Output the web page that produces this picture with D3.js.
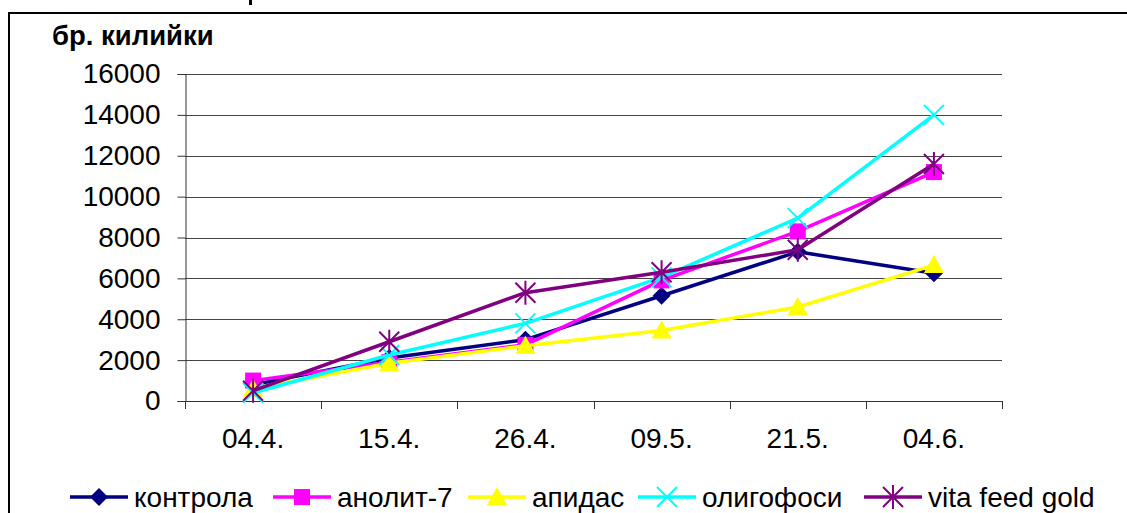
<!DOCTYPE html>
<html>
<head>
<meta charset="utf-8">
<script src="https://cdn.jsdelivr.net/npm/d3@7"></script>
<style>
  html, body { margin: 0; padding: 0; background: #fff; }
  svg { display: block; font-family: "Liberation Sans", Arial, sans-serif; }
</style>
</head>
<body>
<svg id="chart" width="1127" height="513"></svg>
<script>
// Sampling dates
const categories = ["04.4.", "15.4.", "26.4.", "09.5.", "21.5.", "04.6."];

// Number of cells per colony
const kontrola = [800, 2100, 3000, 5150, 7300, 6250];
const anolit7 = [1000, 1900, 2750, 5900, 8300, 11200];
const apidas = [600, 1850, 2700, 3450, 4600, 6650];
const oligofosi = [400, 2250, 3800, 6050, 8950, 14000];
const vitaFeedGold = [500, 2900, 5300, 6300, 7400, 11600];

const seriesNames = ["контрола", "анолит-7", "апидас", "олигофоси", "vita feed gold"];
const seriesValues = [kontrola, anolit7, apidas, oligofosi, vitaFeedGold];
const seriesColors = ["#000080", "#ff00ff", "#ffff00", "#00ffff", "#800080"];
const seriesMarkers = ["diamond", "square", "triangle", "cross", "star"];

const yTicks = [0, 2000, 4000, 6000, 8000, 10000, 12000, 14000, 16000];
const yTitle = "бр. килийки";

const svg = d3.select("#chart");

// Outer chart frame (continues beyond the visible area)
svg.append("rect")
  .attr("x", 9).attr("y", 13)
  .attr("width", 1200).attr("height", 600)
  .attr("fill", "none").attr("stroke", "#000").attr("stroke-width", 2);

// Tip of the heading glyph above the frame
svg.append("rect")
  .attr("x", 249).attr("y", 0)
  .attr("width", 3).attr("height", 5)
  .attr("fill", "#000");

const plot = { left: 185, right: 1002, top: 74, bottom: 401 };

const x = d3.scaleBand().domain(categories).range([plot.left, plot.right]).padding(0);
const y = d3.scaleLinear().domain([0, 16000]).range([plot.bottom, plot.top]);
const cx = c => x(c) + x.bandwidth() / 2;

// Horizontal gridlines
svg.append("g")
  .selectAll("line")
  .data(yTicks.filter(v => v > 0))
  .join("line")
  .attr("x1", plot.left).attr("x2", plot.right)
  .attr("y1", d => Math.round(y(d)) + 0.5).attr("y2", d => Math.round(y(d)) + 0.5)
  .attr("stroke", "#444").attr("stroke-width", 1);

// Y axis
const yAxis = svg.append("g")
  .attr("transform", `translate(${plot.left + 0.5},0)`)
  .call(d3.axisLeft(y).tickValues(yTicks).tickSize(8).tickPadding(17).tickFormat(d3.format("d")));
yAxis.select(".domain").attr("stroke", "#333");
yAxis.selectAll(".tick line").attr("stroke", "#333");
yAxis.selectAll(".tick text")
  .attr("font-size", 28).attr("fill", "#000")
  .attr("font-family", "'Liberation Sans', Arial, sans-serif");

// X axis: baseline with ticks between categories
const xAxis = svg.append("g");
xAxis.append("line")
  .attr("x1", plot.left).attr("x2", plot.right)
  .attr("y1", Math.round(y(0)) + 0.5).attr("y2", Math.round(y(0)) + 0.5)
  .attr("stroke", "#333");
const bounds = categories.map(c => x(c)).concat([x(categories[categories.length - 1]) + x.bandwidth()]);
xAxis.selectAll(".xt")
  .data(bounds)
  .join("line")
  .attr("class", "xt")
  .attr("x1", d => Math.round(d) + 0.5).attr("x2", d => Math.round(d) + 0.5)
  .attr("y1", y(0)).attr("y2", y(0) + 8)
  .attr("stroke", "#333");
xAxis.selectAll(".xl")
  .data(categories)
  .join("text")
  .attr("class", "xl")
  .attr("x", d => cx(d))
  .attr("y", 448)
  .attr("text-anchor", "middle")
  .attr("font-size", 28)
  .text(d => d);

// Y axis title
svg.append("text")
  .attr("x", 52).attr("y", 45)
  .attr("font-size", 27.5).attr("font-weight", "bold")
  .text(yTitle);

// Marker shapes
function markerPath(type) {
  switch (type) {
    case "diamond": return "M0,-9L9,0L0,9L-9,0Z";
    case "square": return "M-8,-8H8V8H-8Z";
    case "triangle": return "M0,-10L10,8H-10Z";
    case "cross": return "M-10,-10L10,10M10,-10L-10,10";
    case "star": return "M-10,-10L10,10M10,-10L-10,10M0,-12V12";
  }
}
function drawMarker(g, type, color) {
  const stroked = type === "cross" || type === "star";
  g.append("path")
    .attr("d", markerPath(type))
    .attr("fill", stroked ? "none" : color)
    .attr("stroke", stroked ? color : "none")
    .attr("stroke-width", stroked ? 2 : 0);
}

// Series lines and markers
const line = d3.line().x((d, i) => cx(categories[i])).y(d => y(d));
seriesValues.forEach((vals, s) => {
  const g = svg.append("g");
  g.append("path")
    .datum(vals)
    .attr("d", line)
    .attr("fill", "none")
    .attr("stroke", seriesColors[s])
    .attr("stroke-width", 3.5)
    .attr("stroke-linejoin", "round");
  vals.forEach((v, i) => {
    const m = g.append("g").attr("transform", `translate(${cx(categories[i])},${y(v)})`);
    drawMarker(m, seriesMarkers[s], seriesColors[s]);
  });
});

// Legend
const legendX = [70, 273, 468, 638, 864];
const legendY = 497;
const legend = svg.append("g");
seriesNames.forEach((name, s) => {
  const g = legend.append("g").attr("transform", `translate(${legendX[s]},${legendY})`);
  g.append("line")
    .attr("x1", 0).attr("x2", 58).attr("y1", 0).attr("y2", 0)
    .attr("stroke", seriesColors[s]).attr("stroke-width", 3.5);
  const m = g.append("g").attr("transform", "translate(29,0)");
  drawMarker(m, seriesMarkers[s], seriesColors[s]);
  g.append("text")
    .attr("x", 64).attr("y", 10)
    .attr("font-size", 28)
    .text(name);
});
</script>
</body>
</html>
